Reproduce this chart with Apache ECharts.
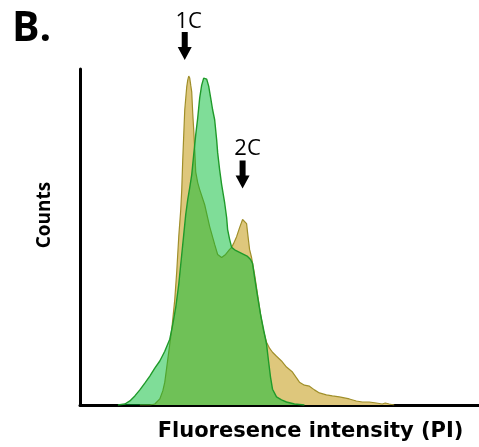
<!DOCTYPE html>
<html>
<head>
<meta charset="utf-8">
<script src="https://cdn.jsdelivr.net/npm/echarts@6/dist/echarts.min.js"></script>
<style>
html,body{margin:0;padding:0;background:#fff;}
#chart{width:479px;height:447px;}
</style>
</head>
<body>
<div id="chart"></div>
<script>
// Tan histogram (x = fluorescence channel, y = counts, % of axis height)
const tanX = [60,70,75,80,83,85,88,90,92,95,97,99,101,102,103,104,105,107,108,109,110,111,112,113,114,115,116,118,120,125,130,135,138,142,146,150,152,154,157,160,163,165,167,168,170,172,175,178,181,184,187,190,193,197,202,207,213,220,225,230,235,240,247,253,260,270,277,283,290,297,303,306,310,315];
const tanY = [0,0,0.3,1.8,4.2,6.8,13.6,18.1,22.5,31.4,39.8,50.1,58.2,64.1,73.0,80.4,87.8,94.7,96.7,97.9,97.3,95.2,93.2,86.9,81.9,76.0,69.4,66.2,64.1,59.6,53.1,47.8,44.8,43.9,44.8,46.3,46.9,48.1,50.1,52.8,55.2,55.5,54.0,51.3,46.3,43.9,38.9,32.9,27.0,22.0,18.7,16.9,15.7,14.5,13.1,11.3,9.8,6.8,5.9,5.6,4.5,3.6,3.0,2.7,2.4,1.8,1.2,0.9,0.9,0.6,0.3,0.6,0.3,0];
// Green histogram
const greenX = [38,45,50,55,60,65,70,75,80,85,90,93,96,99,102,104,106,108,110,112,114,116,118,120,122,124,125,127,129,131,133,135,137,138,140,142,145,147,148,150,152,156,160,164,168,171,173,175,178,181,183,185,187,189,191,193,197,202,207,215,225];
const greenY = [0,0.3,1.2,2.7,4.5,6.5,8.6,11.0,13.1,16.0,19.6,24.0,29.1,35.9,44.8,50.7,56.7,61.1,64.7,68.5,74.5,80.4,85.4,91.4,95.2,97.3,97.6,97.0,94.9,91.4,87.8,84.9,78.9,75.1,70.0,65.6,60.2,55.8,52.2,49.3,46.9,46.0,45.4,44.8,44.2,43.3,42.1,38.0,32.3,27.0,24.0,21.1,18.1,13.1,8.3,4.7,2.4,1.5,0.9,0.3,0];
// Peak annotations
const peakLabels = ['1C', '2C'];
const peakX = [109, 165];

const tanData = tanX.map((x, i) => [x, tanY[i]]);
const greenData = greenX.map((x, i) => [x, greenY[i]]);
const peakOffsets = [[-4, -30], [-2, -44]];
const labelOffsets = [[4, 2], [5, 0]];
const arrowPath = 'path://M4,0 L10,0 L10,15 L14,15 L7,28 L0,15 L4,15 Z';

const markData = peakLabels.map((lab, i) => {
  const idx = tanX.indexOf(peakX[i]);
  return {
    coord: [peakX[i], tanY[idx]],
    symbol: arrowPath,
    symbolSize: [14, 28],
    symbolOffset: peakOffsets[i],
    itemStyle: { color: '#000' },
    label: {
      show: true, formatter: lab, position: 'top', distance: 1,
      offset: labelOffsets[i],
      color: '#000', fontSize: 22, fontFamily: 'Open Sans'
    }
  };
});

const chart = echarts.init(document.getElementById('chart'), null, { renderer: 'canvas' });
chart.setOption({
  animation: false,
  backgroundColor: '#fff',
  title: {
    text: 'B.', left: 7, top: 4,
    textStyle: { fontSize: 41, fontWeight: 'bold', fontFamily: 'Open Sans', color: '#000' }
  },
  grid: { left: 80, right: 0, top: 69, bottom: 41 },
  xAxis: {
    type: 'value', min: 0, max: 400,
    axisLine: { show: true, lineStyle: { color: '#000', width: 3 } },
    axisTick: { show: false }, axisLabel: { show: false }, splitLine: { show: false },
    name: 'Fluoresence intensity (PI)', nameLocation: 'middle', nameGap: 16,
    nameTextStyle: { fontSize: 21, fontWeight: 'bold', fontFamily: 'DejaVu Sans', color: '#000', padding: [0, 0, 0, 62] }
  },
  yAxis: {
    type: 'value', min: 0, max: 100,
    axisLine: { show: true, lineStyle: { color: '#000', width: 3 } },
    axisTick: { show: false }, axisLabel: { show: false }, splitLine: { show: false },
    name: 'Counts', nameLocation: 'middle', nameGap: 26, nameRotate: 90,
    nameTextStyle: { fontSize: 19, fontWeight: 'bold', fontFamily: 'Open Sans', color: '#000', padding: [0, 0, 0, 44] }
  },
  series: [
    {
      type: 'line', data: tanData, symbol: 'none', z: 2,
      lineStyle: { color: '#a08f2a', width: 1.2 },
      areaStyle: { color: '#dec77c', opacity: 1 },
      markPoint: { data: markData, z: 10 }
    },
    {
      type: 'line', data: greenData, symbol: 'none', z: 3,
      lineStyle: { color: '#1f9a2a', width: 1.4 },
      areaStyle: { color: 'rgb(0,187,49)', opacity: 0.5 }
    }
  ]
});
</script>
</body>
</html>
